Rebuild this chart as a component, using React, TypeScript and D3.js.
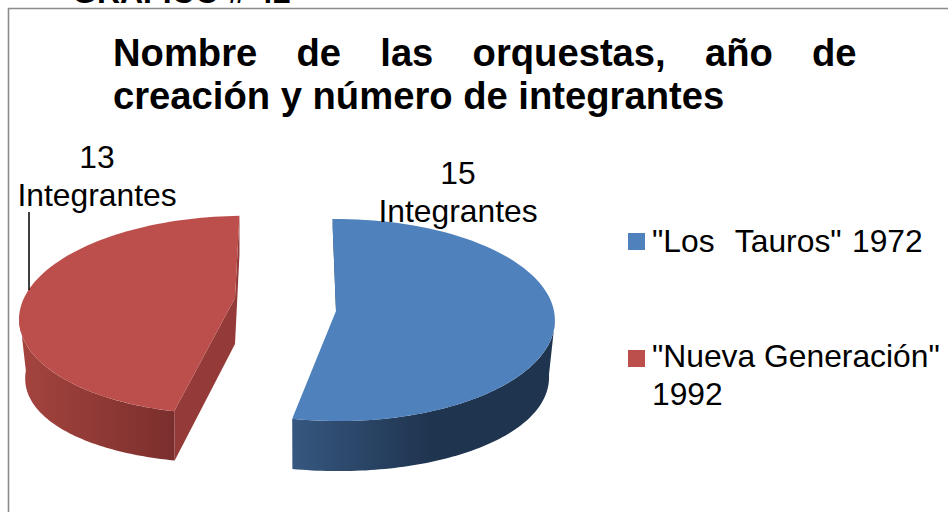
import React from "react";
import * as d3 from "d3";

const categories = ['"Los\u00A0 Tauros" 1972', '"Nueva Generación" 1992'];
const values = [15, 13];
const sliceLabels = ["15", "13"];
const unitLabel = "Integrantes";
const titleLines = ["Nombre de las orquestas, año de", "creación y número de integrantes"];
const topColors = ["#4f81bd", "#bc4f4b"];
const wallFrom = ["#36577f", "#a5443f"];
const wallTo = ["#1f344f", "#7b2f2d"];
const edgeColors = ["#1f344f", "#943b39"];

type Geo = { cx: number; cy: number; rx: number; ry: number; p: number; skew: number; drx: number; dp: number; depth: number; ax: number; side: number };
const geos: Geo[] = [
  { cx: 338, cy: 311, rx: 216, ry: 101, p: 0.09, skew: 0.5, drx: 0.97, dp: 0.03, depth: 47, ax: -2, side: 7 },
  { cx: 233, cy: 298, rx: 209, ry: 99, p: 0.17, skew: -11, drx: 0.965, dp: 0.03, depth: 46, ax: 2, side: 11 },
];

const pie = d3.pie<number>().sort(null).startAngle((-1.5 * Math.PI) / 180).endAngle((358.5 * Math.PI) / 180);
const arcs = pie(values);

function project(g: Geo, a: number, r: number, low: boolean): [number, number] {
  const x = Math.sin(a) * r;
  const y = -Math.cos(a) * r;
  const p = low ? g.p + g.dp : g.p;
  const k = low ? g.drx : 1;
  const s = 1 + p * y;
  return [g.cx + g.rx * k * x * s + g.skew * y, g.cy + g.ry * y * s + (low ? g.depth + g.side * x * x : 0)];
}

const line = d3.line<[number, number]>();
const sample = (a0: number, a1: number) => d3.range(0, 81).map((i) => a0 + ((a1 - a0) * i) / 80);

export default function App() {
  const pieces = arcs.map((d, i) => {
    const g = geos[i];
    const apex: [number, number] = [g.cx + g.ax, g.cy];
    const top = [apex, ...sample(d.startAngle, d.endAngle).map((a) => project(g, a, 1, false))];
    const front = i === 0 ? sample(Math.PI * 0.53, d.endAngle) : sample(d.startAngle, Math.PI * 1.45);
    const wall = [
      ...front.map((a) => project(g, a, 1, false)),
      ...front.slice().reverse().map((a) => project(g, a, 1, true)),
    ];
    const end = project(g, d.endAngle, 1, false);
    const edge: [number, number][] =
      i === 1
        ? [end, apex, project(g, d.startAngle, 1, false), project(g, d.startAngle, 1, true), [apex[0], apex[1] + g.depth], [end[0], end[1] + g.depth - 7]]
        : [project(g, d.startAngle, 1, false), apex, [apex[0] + 3, apex[1] - 6]];
    return { top, wall, edge, i };
  });

  const titleFs = 38.2;
  return (
    <svg width={948} height={512} style={{ position: "fixed", left: 0, top: 0, background: "#fff" }} fontFamily="'Liberation Sans', Arial, sans-serif">
      <defs>
        {categories.map((_, i) => {
          const x0 = i === 0 ? 293 : 20;
          const x1 = i === 0 ? 430 : 172;
          return (
            <linearGradient key={i} id={`w${i}`} gradientUnits="userSpaceOnUse" x1={x0} x2={x1} y1={0} y2={0}>
              <stop offset="0" stopColor={wallFrom[i]} />
              <stop offset="1" stopColor={wallTo[i]} />
            </linearGradient>
          );
        })}
      </defs>
      <text x={72} y={3} fontSize={32} fontWeight="bold" fill="#000">GRAFICO # 42</text>
      <path d="M8.5 512V8.5H948" fill="none" stroke="#8c8c8c" strokeWidth={1.6} />
      <text fontSize={titleFs} fontWeight="bold" fill="#000">
        <tspan x={113} y={66} wordSpacing={28.6}>{titleLines[0]}</tspan>
        <tspan x={113} y={109}>{titleLines[1]}</tspan>
      </text>
      {pieces.map((p) => (
        <g key={p.i}>
          <path d={line(p.edge)! + "Z"} fill={edgeColors[p.i]} />
          <path d={line(p.wall as [number, number][])! + "Z"} fill={`url(#w${p.i})`} />
          <path d={line(p.top as [number, number][])! + "Z"} fill={topColors[p.i]} />
        </g>
      ))}
      <line x1={29} x2={29} y1={212} y2={290} stroke="#000" strokeWidth={1.5} />
      <g fontSize={31.8} fill="#000" textAnchor="middle">
        <text x={97} y={168}>{sliceLabels[1]}</text>
        <text x={97} y={206}>{unitLabel}</text>
        <text x={458} y={184}>{sliceLabels[0]}</text>
        <text x={458} y={222}>{unitLabel}</text>
      </g>
      <rect x={628} y={233} width={17} height={17} fill={topColors[0]} />
      <rect x={628} y={350} width={17} height={17} fill={topColors[1]} />
      <g fontSize={31.8} fill="#000">
        <text x={652} y={252} wordSpacing={1.6}>{categories[0]}</text>
        <text x={652} y={367}>{categories[1].split(" ").slice(0, 2).join(" ")}</text>
        <text x={652} y={405}>{categories[1].split(" ")[2]}</text>
      </g>
    </svg>
  );
}
